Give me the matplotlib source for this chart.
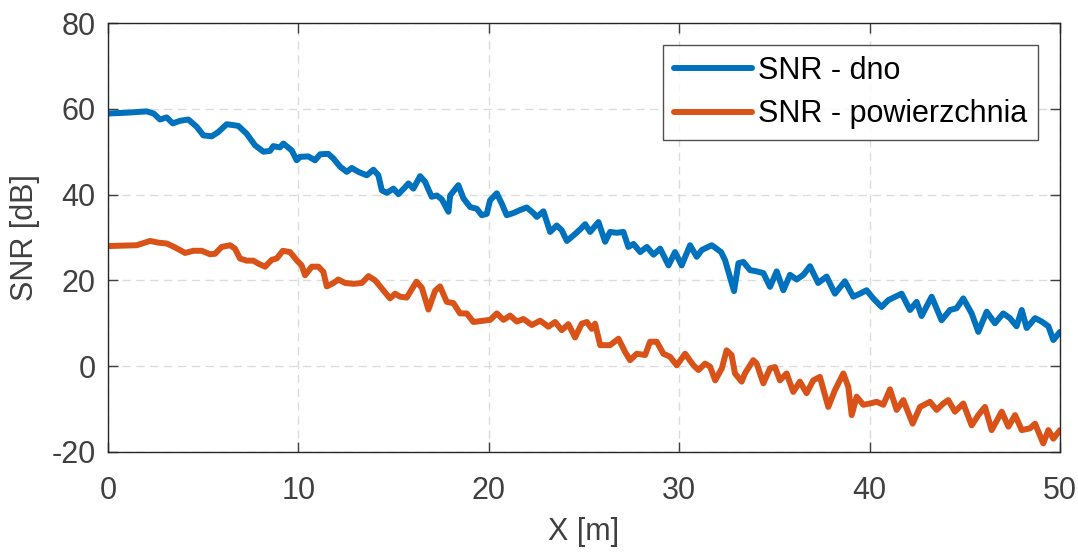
import numpy as np
import matplotlib
matplotlib.use("Agg")
import matplotlib.pyplot as plt

plt.rcParams['font.family'] = ['Liberation Sans', 'DejaVu Sans']
plt.rcParams['axes.unicode_minus'] = False

# values (x in m, SNR in dB)
x_dno = [0.0, 1.0, 2.03, 2.4, 2.73, 3.08, 3.4, 3.78, 4.22, 4.66, 5.01, 5.45, 5.8,
         6.23, 6.58, 6.85, 7.28, 7.72, 8.16, 8.51, 8.68, 9.03, 9.21, 9.65, 9.91,
         10.09, 10.52, 10.87, 11.14, 11.57, 11.84, 12.19, 12.54, 12.8, 13.15, 13.59,
         13.94, 14.2, 14.38, 14.64, 14.99, 15.25, 15.6, 15.78, 16.04, 16.39, 16.65,
         17.0, 17.27, 17.53, 17.88, 17.97, 18.4, 18.67, 19.02, 19.37, 19.63, 19.89,
         20.07, 20.42, 20.68, 20.94, 21.29, 21.64, 21.99, 22.34, 22.52, 22.87, 23.22,
         23.57, 23.83, 24.1, 24.45, 24.8, 25.06, 25.32, 25.76, 26.11, 26.37, 26.72,
         27.07, 27.33, 27.6, 27.95, 28.3, 28.65, 29.0, 29.44, 29.78, 30.13, 30.57,
         30.92, 31.19, 31.71, 32.2, 32.41, 32.88, 33.11, 33.37, 33.72, 34.07, 34.42,
         34.77, 35.12, 35.47, 35.82, 36.17, 36.52, 36.87, 37.3, 37.74, 38.18, 38.7,
         39.14, 39.49, 39.84, 40.19, 40.63, 40.98, 41.68, 42.12, 42.47, 42.73, 43.26,
         43.78, 44.22, 44.57, 44.92, 45.36, 45.71, 46.15, 46.58, 47.02, 47.37, 47.72,
         47.99, 48.25, 48.69, 49.04, 49.39, 49.65, 50.0]
snr_dno = [58.9, 59.1, 59.4, 58.9, 57.5, 58.0, 56.6, 57.2, 57.5, 55.8, 53.8, 53.6, 54.6,
           56.4, 56.2, 56.0, 54.2, 51.5, 50.0, 50.2, 51.3, 51.0, 51.9, 50.3, 48.0,
           48.8, 48.9, 48.0, 49.4, 49.5, 48.4, 46.5, 45.3, 46.2, 45.3, 44.5,
           45.8, 44.5, 41.0, 40.4, 41.4, 40.1, 41.7, 42.6, 41.4, 44.3, 43.0,
           39.5, 39.8, 38.9, 36.0, 39.8, 42.2, 39.1, 37.1, 36.7, 35.2, 35.5,
           38.7, 40.3, 37.9, 35.2, 35.7, 36.4, 37.0, 35.7, 34.8, 36.1, 31.3,
           32.8, 31.7, 29.2, 30.5, 31.9, 33.1, 31.3, 33.6, 29.0, 31.3, 31.1,
           31.3, 27.8, 28.5, 26.6, 27.8, 26.0, 27.4, 23.5, 26.6, 23.5, 28.2,
           25.5, 27.1, 28.2, 26.6, 24.7, 17.5, 24.0, 24.3, 22.4, 22.1, 21.7,
           18.5, 22.1, 17.7, 21.3, 20.2, 21.3, 23.3, 19.4, 20.9, 16.9, 19.8,
           16.2, 16.9, 17.7, 15.8, 13.8, 15.4, 16.9, 13.1, 15.0, 11.7, 16.2,
           10.7, 13.1, 13.5, 15.8, 12.3, 8.0, 12.7, 10.0, 12.3, 11.2, 9.3,
           13.1, 8.9, 11.2, 10.4, 9.3, 6.1, 8.0]

x_pow = [0.0, 1.51, 2.21, 2.64, 3.08, 3.52, 4.05, 4.48, 4.92, 5.36, 5.62, 5.97, 6.41,
         6.67, 6.93, 7.28, 7.63, 7.9, 8.25, 8.6, 8.86, 9.18, 9.56, 9.91, 10.17, 10.35,
         10.7, 11.05, 11.31, 11.49, 11.84, 12.1, 12.45, 12.89, 13.33, 13.68, 14.03,
         14.46, 14.81, 15.08, 15.34, 15.69, 16.2, 16.48, 16.83, 17.18, 17.44, 17.79,
         18.14, 18.49, 18.84, 19.19, 19.72, 20.07, 20.42, 20.77, 21.12, 21.47, 21.82,
         22.26, 22.7, 23.13, 23.48, 23.83, 24.18, 24.53, 24.88, 25.15, 25.41, 25.58,
         25.85, 26.37, 26.81, 27.16, 27.42, 27.77, 28.21, 28.47, 28.82, 29.17, 29.52,
         29.87, 30.31, 30.75, 31.01, 31.36, 31.62, 31.89, 32.24, 32.49, 32.75, 32.93,
         33.28, 33.45, 33.89, 34.07, 34.42, 34.77, 35.03, 35.29, 35.64, 35.99, 36.34,
         36.69, 37.04, 37.39, 37.83, 38.18, 38.62, 38.88, 39.06, 39.32, 39.67, 40.02,
         40.37, 40.72, 41.07, 41.42, 41.77, 42.26, 42.65, 43.17, 43.52, 43.87, 44.13,
         44.48, 44.92, 45.36, 45.71, 46.06, 46.41, 46.94, 47.29, 47.64, 47.99, 48.42,
         48.69, 49.12, 49.39, 49.65, 50.0]
snr_pow = [28.0, 28.2, 29.2, 28.8, 28.6, 27.7, 26.4, 26.9, 26.9, 26.1, 26.2, 27.8, 28.2,
           27.4, 25.1, 24.6, 24.6, 23.9, 23.2, 24.8, 25.1, 26.9, 26.6, 24.7, 23.5, 21.2,
           23.2, 23.2, 22.0, 18.6, 19.4, 20.2, 19.4, 19.2, 19.4, 21.0, 20.0,
           17.7, 15.8, 16.9, 16.2, 16.0, 19.7, 18.3, 13.2, 17.6, 18.6, 15.0,
           14.7, 12.3, 12.3, 10.3, 10.6, 10.8, 12.3, 10.8, 11.8, 10.4, 11.0,
           9.6, 10.6, 9.2, 10.3, 8.4, 9.8, 6.7, 9.9, 10.3, 8.7, 9.9,
           4.9, 4.9, 6.4, 3.3, 1.4, 2.9, 2.6, 5.7, 5.7, 2.9, 2.2,
           0.2, 2.9, 0.2, -0.9, 0.6, -0.1, -3.3, -0.5, 3.7, 2.6, -1.7,
           -3.6, -1.7, 1.4, 0.6, -4.0, -0.5, -0.2, -3.3, -1.7, -6.0, -3.6,
           -6.3, -3.3, -2.5, -9.5, -5.6, -1.7, -4.8, -11.4, -7.1, -9.0, -8.7,
           -8.3, -9.0, -5.4, -10.2, -7.9, -13.4, -9.5, -8.3, -10.2, -8.7, -7.9,
           -10.6, -8.7, -13.8, -11.4, -9.5, -14.9, -10.6, -14.1, -11.4, -14.9, -14.5,
           -13.4, -18.0, -14.9, -16.9, -14.9]

fig = plt.figure(figsize=(10.78, 5.52), dpi=100)
ax = fig.add_axes([0.1002, 0.1812, 0.8831, 0.7771])

ax.plot(x_dno, snr_dno, color='#0072BD', lw=4.3, label='SNR - dno',
        solid_joinstyle='round', solid_capstyle='round')
ax.plot(x_pow, snr_pow, color='#D95319', lw=4.3, label='SNR - powierzchnia',
        solid_joinstyle='round', solid_capstyle='round')

ax.set_xlim(0, 50)
ax.set_ylim(-20, 80)
ax.set_xticks([0, 10, 20, 30, 40, 50])
ax.set_yticks([-20, 0, 20, 40, 60, 80])
ax.grid(True, ls=(0, (6, 4)), color='#dcdcdc', lw=1)
ax.set_axisbelow(True)
ax.tick_params(direction='in', length=7, width=1, colors='#404040', labelsize=22,
               top=True, right=True)
ax.tick_params(axis='x', pad=17)
ax.tick_params(axis='y', pad=9)
for s in ax.spines.values():
    s.set_color('#262626')
    s.set_linewidth(1)

ax.set_xlabel('X [m]', fontsize=22, color='#404040', labelpad=8)
ax.set_ylabel('SNR [dB]', fontsize=22, color='#404040', labelpad=8)

leg = ax.legend(loc='upper right', fontsize=22, frameon=True, fancybox=False,
                edgecolor='#262626', handlelength=2.55, borderaxespad=0.72,
                borderpad=0.35, labelspacing=0.45, handletextpad=0.2)
leg.get_frame().set_linewidth(1)

fig.savefig('out.png', dpi=100)
